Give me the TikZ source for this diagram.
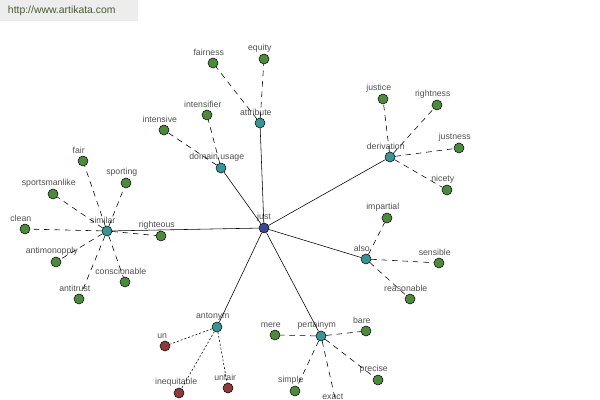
\documentclass[tikz,border=0pt]{standalone}
\usepackage{fontspec}
\setmainfont{Liberation Sans}
\usetikzlibrary{positioning}

\definecolor{hubteal}{HTML}{3A9494}
\definecolor{leafgreen}{HTML}{4C8A3E}
\definecolor{rootblue}{HTML}{3B4796}
\definecolor{antired}{HTML}{8C3A3A}
\definecolor{wordgray}{HTML}{505050}
\definecolor{siteolive}{HTML}{4A5A32}

\begin{document}
\begin{tikzpicture}[x=0.025cm,y=-0.025cm,
  dot/.style={circle,draw=black,line width=0.35pt,inner sep=0pt,minimum size=0.25cm},
  word/.style={font=\fontsize{6.2}{7}\selectfont,text=wordgray,inner sep=0.5pt},
  root/.style={dot,fill=rootblue,label={[word,label distance=0.5pt]above:#1}},
  hub/.style={dot,fill=hubteal,label={[word,label distance=0.5pt,xshift=-3pt]above:#1}},
  leaf/.style={dot,fill=leafgreen,label={[word,label distance=0.5pt,xshift=-3pt]above:#1}},
  antileaf/.style={dot,fill=antired,label={[word,label distance=0.5pt,xshift=-2pt]above:#1}},
  relation/.style={line width=0.4pt},
  synonym/.style={line width=0.4pt,dash pattern=on 4pt off 3.4pt},
  opposite/.style={line width=0.4pt,dash pattern=on 1.4pt off 1.4pt}]
\useasboundingbox (0,0) rectangle (600,400);
\clip (0,0) rectangle (600,400);

% site banner
\fill[black!7] (0,0) rectangle (138,21);
\node[font=\fontsize{7.4}{8}\selectfont,text=siteolive,anchor=west] (site) at (3,11) {http://www.artikata.com};

% root and relation hubs
\node[root=just] (just) at (264,228) {};
\node[hub=attribute] (attribute) at (260,123) {};
\node[hub=domain usage] (domain) at (221,168) {};
\node[hub=derivation] (derivation) at (390,157) {};
\node[hub=similar] (similar) at (107,231) {};
\node[hub=also] (also) at (366,259) {};
\node[hub=antonym] (antonym) at (217,327) {};
\node[hub=pertainym] (pertainym) at (321,336) {};

% leaves
\node[leaf=fairness] (fairness) at (213,63) {};
\node[leaf=equity] (equity) at (264,59) {};
\node[leaf=intensifier] (intensifier) at (207,115) {};
\node[leaf=intensive] (intensive) at (164,130) {};
\node[leaf=justice] (justice) at (383,99) {};
\node[leaf=rightness] (rightness) at (437,105) {};
\node[leaf=justness] (justness) at (459,148) {};
\node[leaf=nicety] (nicety) at (447,190) {};
\node[leaf=fair] (fair) at (83,161) {};
\node[leaf=sporting] (sporting) at (126,183) {};
\node[leaf=sportsmanlike] (sportsmanlike) at (53,194) {};
\node[leaf=clean] (clean) at (25,229) {};
\node[leaf=righteous] (righteous) at (161,236) {};
\node[leaf=antimonopply] (antimonopply) at (56,262) {};
\node[leaf=conscionable] (conscionable) at (125,282) {};
\node[leaf=antitrust] (antitrust) at (79,299) {};
\node[leaf=impartial] (impartial) at (387,218) {};
\node[leaf=sensible] (sensible) at (439,263) {};
\node[leaf=reasonable] (reasonable) at (410,299) {};
\node[antileaf=un] (un) at (165,346) {};
\node[antileaf=inequitable] (inequitable) at (179,393) {};
\node[antileaf=unfair] (unfair) at (228,388) {};
\node[leaf=mere] (mere) at (275,335) {};
\node[leaf=bare] (bare) at (366,331) {};
\node[leaf=precise] (precise) at (378,380) {};
\node[leaf=simple] (simple) at (295,391) {};
\node[leaf=exact] (exact) at (337,407) {};

% links
\foreach \h in {attribute,domain,derivation,similar,also,antonym,pertainym}
  \draw[relation] (just) -- (\h);
\foreach \l in {fairness,equity}
  \draw[synonym] (attribute) -- (\l);
\foreach \l in {intensifier,intensive}
  \draw[synonym] (domain) -- (\l);
\foreach \l in {justice,rightness,justness,nicety}
  \draw[synonym] (derivation) -- (\l);
\foreach \l in {fair,sporting,sportsmanlike,clean,righteous,antimonopply,conscionable,antitrust}
  \draw[synonym] (similar) -- (\l);
\foreach \l in {impartial,sensible,reasonable}
  \draw[synonym] (also) -- (\l);
\foreach \l in {un,inequitable,unfair}
  \draw[opposite] (antonym) -- (\l);
\foreach \l in {mere,bare,precise,simple,exact}
  \draw[synonym] (pertainym) -- (\l);
\end{tikzpicture}
\end{document}
